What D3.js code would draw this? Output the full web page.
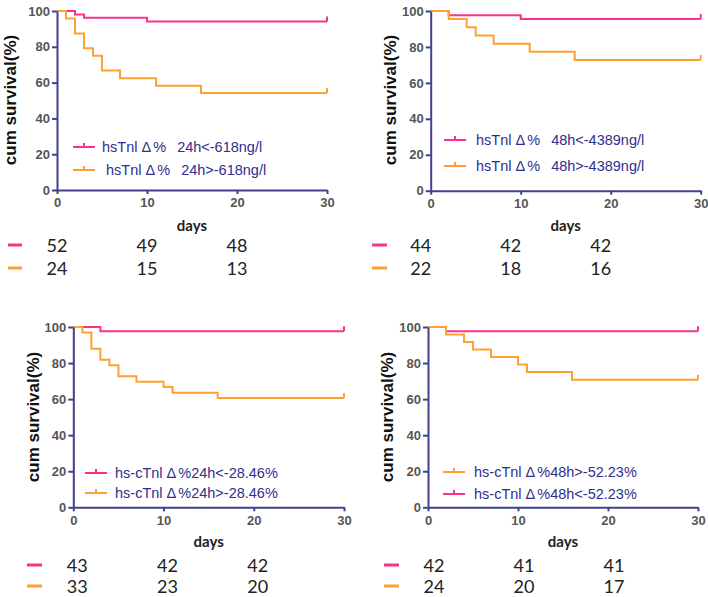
<!DOCTYPE html>
<html><head><meta charset="utf-8">
<script src="https://cdn.jsdelivr.net/npm/d3@7"></script>
<style>body{margin:0;background:#fff}svg{display:block}text{white-space:pre}</style>
</head><body>
<svg id="c" width="708" height="597"></svg>
<script>
// ---- data ----
const xTicks = [0, 10, 20, 30];
const yTicks = [0, 20, 40, 60, 80, 100];
const riskDays = [0, 10, 20];

const p1LowTimes = [0, 2, 3, 10, 30];
const p1LowSurv = [100, 98.1, 96.2, 94.2, 94.2];
const p1HighTimes = [0, 1, 2, 3, 4, 5, 7, 11, 16, 30];
const p1HighSurv = [100, 95.8, 87.5, 79.2, 75, 66.7, 62.5, 58.3, 54.2, 54.2];
const p1Risk = [[52, 49, 48], [24, 15, 13]];
const p1Labels = ["hsTnl \u0394%  24h<-618ng/l", "hsTnl \u0394%  24h>-618ng/l"];

const p2LowTimes = [0, 2, 10, 30];
const p2LowSurv = [100, 97.7, 95.5, 95.5];
const p2HighTimes = [0, 2, 4, 5, 7, 11, 16, 30];
const p2HighSurv = [100, 95.5, 90.9, 86.4, 81.8, 77.3, 72.7, 72.7];
const p2Risk = [[44, 42, 42], [22, 18, 16]];
const p2Labels = ["hsTnl \u0394%  48h<-4389ng/l", "hsTnl \u0394%  48h>-4389ng/l"];

const p3LowTimes = [0, 3, 30];
const p3LowSurv = [100, 97.7, 97.7];
const p3HighTimes = [0, 1, 2, 3, 4, 5, 7, 10, 11, 16, 30];
const p3HighSurv = [100, 97.0, 87.9, 81.8, 78.8, 72.7, 69.7, 66.7, 63.6, 60.6, 60.6];
const p3Risk = [[43, 42, 42], [33, 23, 20]];
const p3Labels = ["hs-cTnl \u0394%24h<-28.46%", "hs-cTnl \u0394%24h>-28.46%"];

const p4LowTimes = [0, 2, 30];
const p4LowSurv = [100, 97.6, 97.6];
const p4HighTimes = [0, 2, 4, 5, 7, 10, 11, 16, 30];
const p4HighSurv = [100, 95.8, 91.7, 87.5, 83.3, 79.2, 75, 70.8, 70.8];
const p4Risk = [[42, 41, 41], [24, 20, 17]];
const p4Labels = ["hs-cTnl \u0394%48h>-52.23%", "hs-cTnl \u0394%48h<-52.23%"];

// ---- style ----
const PINK = "#f9338a", ORANGE = "#ffa033", AXIS = "#40408f", LEG = "#2f2f8c";

const panels = [
  {x0: 57, x1: 327, y0: 190, y1: 11, low: [p1LowTimes, p1LowSurv], high: [p1HighTimes, p1HighSurv], risk: p1Risk,
   legend: [{lab: p1Labels[0], c: PINK, y: 147, lx: 73, tx: 102}, {lab: p1Labels[1], c: ORANGE, y: 170, lx: 73, tx: 106}],
   ylab: [10, 100], days: 225, r1: 245, r2: 268, dash: [8, 22], colOff: 0},
  {x0: 430.7, x1: 700.7, y0: 190.7, y1: 11, low: [p2LowTimes, p2LowSurv], high: [p2HighTimes, p2HighSurv], risk: p2Risk,
   legend: [{lab: p2Labels[0], c: PINK, y: 140, lx: 444, tx: 476}, {lab: p2Labels[1], c: ORANGE, y: 166, lx: 444, tx: 476}],
   ylab: [390, 100], days: 225, r1: 245, r2: 268, dash: [372, 387], colOff: -10},
  {x0: 73.3, x1: 344, y0: 507.3, y1: 327, low: [p3LowTimes, p3LowSurv], high: [p3HighTimes, p3HighSurv], risk: p3Risk,
   legend: [{lab: p3Labels[0], c: PINK, y: 473, lx: 85, tx: 115}, {lab: p3Labels[1], c: ORANGE, y: 493, lx: 85, tx: 115}],
   ylab: [33, 417], days: 541, r1: 565, r2: 586, dash: [27, 42], colOff: 4},
  {x0: 428, x1: 698, y0: 507.3, y1: 327, low: [p4LowTimes, p4LowSurv], high: [p4HighTimes, p4HighSurv], risk: p4Risk,
   legend: [{lab: p4Labels[0], c: ORANGE, y: 472, lx: 443, tx: 474}, {lab: p4Labels[1], c: PINK, y: 494, lx: 443, tx: 474}],
   ylab: [387, 417], days: 541, r1: 565, r2: 586, dash: [384, 399], colOff: 6}
];

const svg = d3.select("#c");

panels.forEach(p => {
  const x = d3.scaleLinear().domain([0, 30]).range([p.x0, p.x1]);
  const y = d3.scaleLinear().domain([0, 100]).range([p.y0, p.y1]);
  const g = svg.append("g");

  // curves
  [[p.low, PINK], [p.high, ORANGE]].forEach(([s, col]) => {
    const pts = s[0].map((t, i) => [t, s[1][i]]);
    g.append("path").datum(pts)
      .attr("fill", "none").attr("stroke", col).attr("stroke-width", 2)
      .attr("d", d3.line().x(d => x(d[0])).y(d => y(d[1])).curve(d3.curveStepAfter));
    const last = pts[pts.length - 1];
    g.append("line").attr("x1", x(last[0])).attr("x2", x(last[0]))
      .attr("y1", y(last[1])).attr("y2", y(last[1]) - 5)
      .attr("stroke", col).attr("stroke-width", 2);
  });

  // axes
  const xa = g.append("g").attr("transform", `translate(0,${p.y0})`)
    .call(d3.axisBottom(x).tickValues(xTicks).tickSize(4).tickPadding(4).tickSizeOuter(0));
  const ya = g.append("g").attr("transform", `translate(${p.x0},0)`)
    .call(d3.axisLeft(y).tickValues(yTicks).tickSize(5).tickPadding(2).tickSizeOuter(0));
  [xa, ya].forEach(a => {
    a.select(".domain").attr("stroke", AXIS).attr("stroke-width", 2);
    a.selectAll(".tick line").attr("stroke", AXIS).attr("stroke-width", 2);
    a.selectAll(".tick text").attr("fill", "#555").attr("font-family", "Liberation Sans, Arial, sans-serif")
      .attr("font-weight", "bold").attr("font-size", 13);
  });

  // y label
  g.append("text").attr("transform", `translate(${p.ylab[0]},${p.ylab[1]}) rotate(-90)`)
    .attr("text-anchor", "middle").attr("dominant-baseline", "central")
    .attr("font-family", "Liberation Sans, Arial, sans-serif").attr("font-weight", "bold")
    .attr("font-size", 17).attr("fill", "#111").text("cum survival(%)");

  // x label
  g.append("text").attr("x", (p.x0 + p.x1) / 2).attr("y", p.days)
    .attr("text-anchor", "middle").attr("dominant-baseline", "central")
    .attr("font-family", "Lato, Carlito, sans-serif").attr("font-weight", "bold")
    .attr("font-size", 15).attr("fill", "#222").text("days");

  // legend
  p.legend.forEach(l => {
    g.append("line").attr("x1", l.lx).attr("x2", l.lx + 22).attr("y1", l.y).attr("y2", l.y)
      .attr("stroke", l.c).attr("stroke-width", 2);
    g.append("line").attr("x1", l.lx + 11).attr("x2", l.lx + 11).attr("y1", l.y).attr("y2", l.y - 4)
      .attr("stroke", l.c).attr("stroke-width", 2);
    const t = g.append("text").attr("x", l.tx).attr("y", l.y).attr("dominant-baseline", "central")
      .attr("font-family", "Liberation Sans, Arial, sans-serif").attr("font-size", 14.5)
      .attr("fill", LEG);
    // split around the delta sign (wide glyph spacing) and the double space
    const i = l.lab.indexOf("\u0394");
    const head = l.lab.slice(0, i + 1);
    const rest = l.lab.slice(i + 1);
    t.append("tspan").text(head);
    const j = rest.indexOf("  ");
    if (j >= 0) {
      t.append("tspan").attr("dx", 2).text(rest.slice(0, j + 2));
      t.append("tspan").attr("dx", 3).text(rest.slice(j + 2));
    } else {
      t.append("tspan").attr("dx", 2).text(rest);
    }
  });

  // risk table
  [[p.r1, PINK, p.risk[0]], [p.r2, ORANGE, p.risk[1]]].forEach(([ry, col, vals]) => {
    g.append("line").attr("x1", p.dash[0]).attr("x2", p.dash[1]).attr("y1", ry).attr("y2", ry)
      .attr("stroke", col).attr("stroke-width", 3);
    g.selectAll(null).data(vals).enter().append("text")
      .attr("x", (d, i) => x(riskDays[i]) + p.colOff).attr("y", ry)
      .attr("text-anchor", "middle").attr("dominant-baseline", "central")
      .attr("font-family", "Lato, Carlito, sans-serif").attr("font-size", 18)
      .attr("fill", "#222").text(d => d);
  });
});
</script>
</body></html>
